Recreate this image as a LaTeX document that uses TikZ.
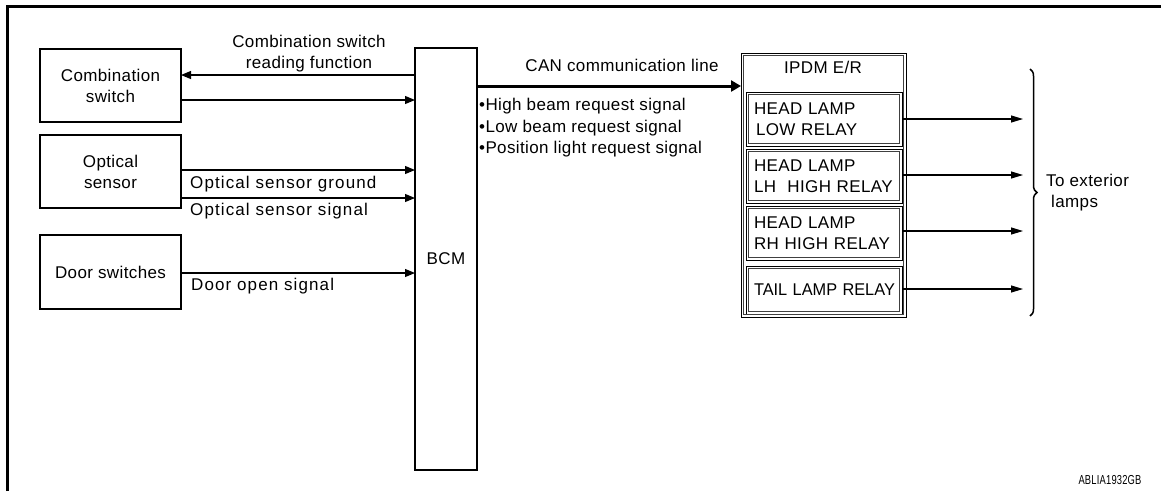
\documentclass[tikz,border=0pt]{standalone}
\usepackage{fontspec}
\setmainfont{Liberation Sans}[LetterSpace=2.2]
\newfontfamily\widefont{Liberation Sans}[LetterSpace=6.5]
\newfontfamily\tightfont{Liberation Sans}
\usetikzlibrary{arrows.meta,decorations.pathreplacing,calc}

\begin{document}
\begin{tikzpicture}[x=1pt,y=-1pt,
  font=\fontsize{17}{21}\selectfont,
  blk/.style={draw, line width=1.1pt, inner sep=0pt, outer sep=0pt, align=center},
  dblbox/.style={draw, line width=0.8pt, inner sep=0pt, outer sep=0pt},
  relay/.style={dblbox, inner xsep=8pt, text width=140pt, align=left, minimum height=54pt},
  sig/.style={-{Triangle[length=10pt,width=8pt]}, line width=1.1pt},
  outsig/.style={-{Triangle[length=12pt,width=7pt]}, line width=1.1pt},
  canline/.style={-{Triangle[length=10pt,width=11pt]}, line width=3pt},
  lbl/.style={inner sep=0pt, anchor=west}
]
\useasboundingbox (0,0) rectangle (1161,491);

% sheet frame (left and top edges)
\draw[line width=3pt] (7.5,491) -- (7.5,6.5) -- (1161,6.5);

% input units
\node[blk, minimum width=141pt, minimum height=73pt] (cs) at (110.5,85.5) {Combination\\switch};
\node[blk, minimum width=141pt, minimum height=73pt] (os) at (110.5,171.5) {Optical\\sensor};
\node[blk, minimum width=141pt, minimum height=74pt] (ds) at (110.5,272) {Door switches};

% body control module
\node[blk, minimum width=62pt, minimum height=422pt] (bcm) at (446,259) {BCM};

% IPDM E/R with its relays
\node[dblbox, minimum width=165pt, minimum height=264pt] (ipdm) at (823.5,185) {};
\node[inner sep=0pt] (ipdmlbl) at (823,67) {IPDM E/R};
\node[relay] (r1) at (824,119) {HEAD LAMP\\\hspace{2pt}LOW RELAY};
\node[relay] (r2) at (824,176) {HEAD LAMP\\LH\ \ HIGH RELAY};
\node[relay] (r3) at (824,233) {HEAD LAMP\\RH HIGH RELAY};
\node[relay, minimum height=48pt] (r4) at (824,290)
  {\mbox{\scalebox{0.96}[1]{\tightfont TAIL LAMP RELAY}}};

% inner rule of the double borders
\foreach \n in {ipdm,r1,r2,r3,r4}
  \draw[line width=0.7pt, black!75]
    ([shift={(2.2pt,-2.2pt)}]\n.north west) rectangle ([shift={(-2.2pt,2.2pt)}]\n.south east);

% signals into / out of the BCM
\draw[sig] ([yshift=10.5pt]cs.east -| bcm.west) -- ([yshift=10.5pt]cs.east);
\draw[sig] ([yshift=-14.5pt]cs.east) coordinate (c2) -- (c2 -| bcm.west);
\draw[sig] ([yshift=1.5pt]os.east) coordinate (o1) -- (o1 -| bcm.west);
\draw[sig] ([yshift=-26.5pt]os.east) coordinate (o2) -- (o2 -| bcm.west);
\draw[sig] ([yshift=-1pt]ds.east) coordinate (d1) -- (d1 -| bcm.west);

\node[inner sep=0pt, align=center] (cslbl) at (309,54) {Combination switch\\reading function};
\node[lbl] (oglbl) at (190,184) {\widefont Optical sensor ground};
\node[lbl] (oslbl) at (190,211) {\widefont Optical sensor signal};
\node[lbl] (dolbl) at (191,286) {\widefont Door open signal};

% CAN communication line
\draw[canline] ([yshift=-38pt]bcm.north east) coordinate (can) -- (can -| ipdm.west);
\node[inner sep=0pt] (canlbl) at (622,65) {CAN communication line};
\node[lbl, align=left, font=\fontsize{17}{21.5}\selectfont] (req) at (479,128)
  {•High beam request signal\\•Low beam request signal\\•Position light request signal};

% outputs to the exterior lamps
\coordinate (e1) at (1023,119);
\coordinate (e2) at (1023,175);
\coordinate (e3) at (1023,231);
\coordinate (e4) at (1023,289);
\draw[outsig] (r1.east |- e1) -- (e1);
\draw[outsig] (r2.east |- e2) -- (e2);
\draw[outsig] (r3.east |- e3) -- (e3);
\draw[outsig] (r4.east |- e4) -- (e4);

\coordinate (bt) at (1030,69);
\coordinate (bb) at (1030,316);
\draw[decorate, decoration={brace, amplitude=7pt}, line width=1.5pt] (bt) -- (bb);
\node[lbl, align=left] (ext) at (1046,193) {To exterior\\\hspace{5pt}lamps};

\node[inner sep=0pt] (code) at (1110,480)
  {\scalebox{0.72}[1]{\fontsize{13}{15}\selectfont ABLIA1932GB}};
\end{tikzpicture}
\end{document}
